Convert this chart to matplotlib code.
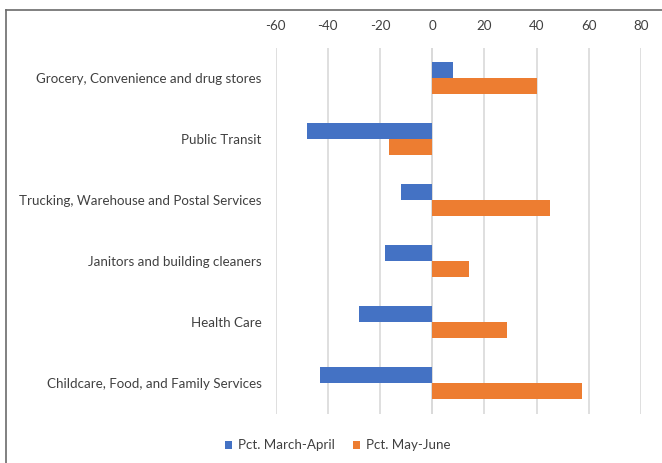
import matplotlib
matplotlib.use("Agg")
import matplotlib.pyplot as plt
from matplotlib.lines import Line2D
import numpy as np

categories = ["Grocery, Convenience and drug stores", "Public Transit",
              "Trucking, Warehouse and Postal Services", "Janitors and building cleaners",
              "Health Care", "Childcare, Food, and Family Services"]
march_april = [8, -48, -12, -18, -28, -43]
may_june = [40, -16.5, 45, 14, 28.5, 57.5]
series_names = ["Pct. March-April", "Pct. May-June"]
xticks = [-60, -40, -20, 0, 20, 40, 60, 80]

plt.rcParams['font.family'] = ['Lato', 'DejaVu Sans']

fig = plt.figure(figsize=(6.62, 4.63), dpi=100)
ax = fig.add_axes([0.4163, 0.1069, 0.9683 - 0.4163, 0.8974 - 0.1069])

y = np.arange(len(categories))
h = 0.257
blue = '#4472C4'
orange = '#ED7D31'
ax.barh(y - h / 2, march_april, height=h, color=blue, label=series_names[0], zorder=3)
ax.barh(y + h / 2, may_june, height=h, color=orange, label=series_names[1], zorder=3)

ax.set_xlim(-60, 80)
ax.set_ylim(len(categories) - 0.5, -0.5)
ax.set_xticks(xticks)
ax.set_xticklabels([str(t) for t in xticks])
ax.xaxis.tick_top()
ax.set_yticks(y)
ax.set_yticklabels(categories)
ax.tick_params(axis='both', length=0, labelsize=9.6, colors='#404040')
ax.tick_params(axis='x', pad=11)
ax.tick_params(axis='y', pad=10)
ax.grid(axis='x', color='#d9d9d9', linewidth=1.2, zorder=0)
ax.axvline(0, color='#d9d9d9', linewidth=1.2, zorder=1)
for s in ax.spines.values():
    s.set_visible(False)

leg = fig.legend(loc='center', bbox_to_anchor=(0.51, 0.038), ncol=2, frameon=False,
                 fontsize=9.6, handlelength=0.55, handleheight=0.55, handletextpad=0.4,
                 columnspacing=1.4, labelcolor='#404040')

fig.add_artist(Line2D([6 / 662, 6 / 662], [0, 1 - 10 / 463], transform=fig.transFigure,
                      color='#6b6b6b', linewidth=1.2))
fig.add_artist(Line2D([6 / 662, 1], [1 - 10 / 463, 1 - 10 / 463], transform=fig.transFigure,
                      color='#6b6b6b', linewidth=1.2))

fig.savefig("out.png", dpi=100)
